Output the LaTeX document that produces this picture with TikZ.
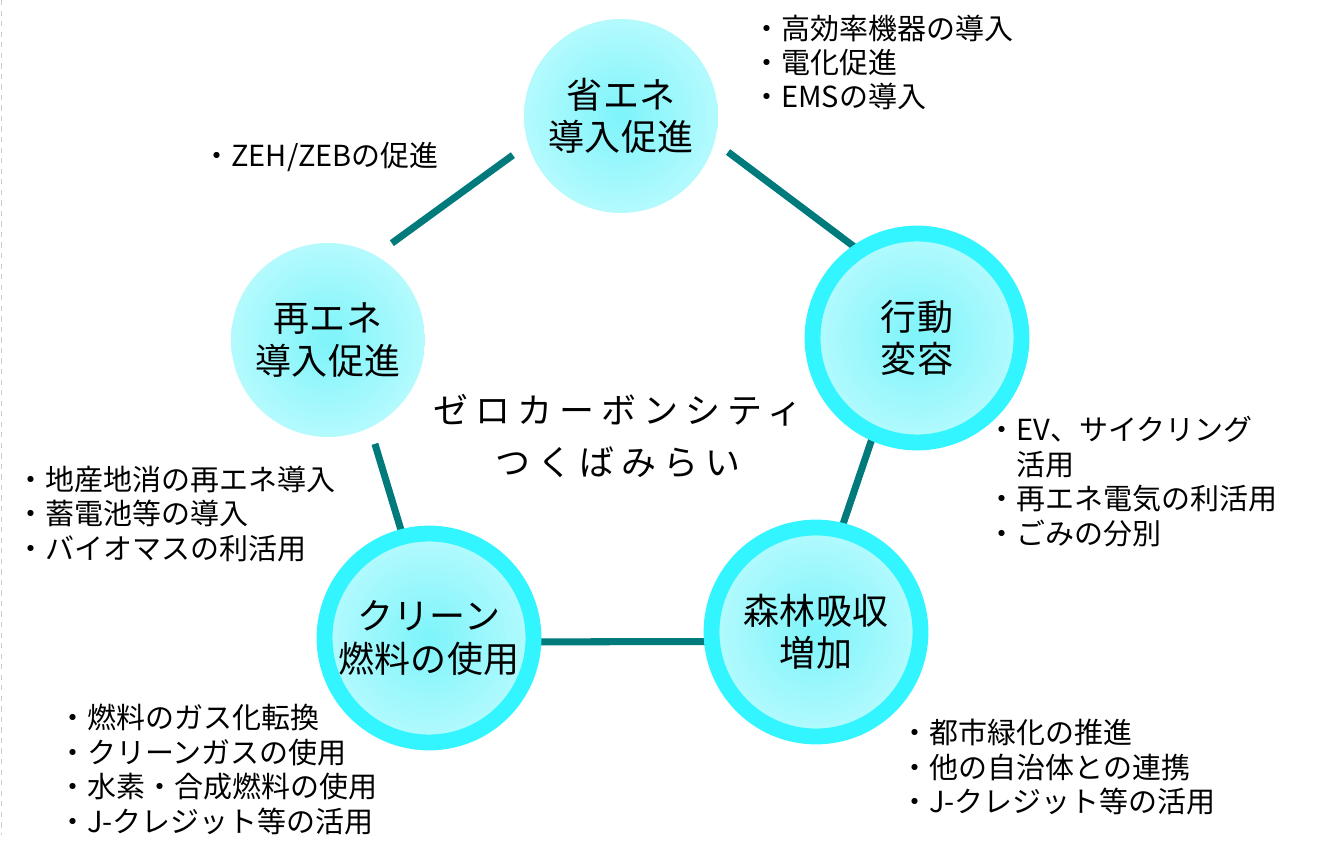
\documentclass[tikz,border=0pt]{standalone}
\usepackage{fontspec}
\setmainfont{Noto Sans CJK JP}
\newfontfamily\widefont[LetterSpace=20]{Noto Sans CJK JP}
\usetikzlibrary{backgrounds}

\definecolor{linkteal}{RGB}{0,122,122}
\definecolor{ringcyan}{RGB}{51,245,255}
\definecolor{bubcore}{RGB}{125,244,250}
\definecolor{bubedge}{RGB}{204,253,255}
\pgfdeclareradialshading{bubshade}{\pgfpoint{0bp}{0bp}}{color(0bp)=(bubcore); color(36bp)=(bubedge); color(50bp)=(bubedge)}

\begin{document}
\begin{tikzpicture}[x=0.02cm, y=-0.02cm,
    bubble/.style={circle, inner sep=0pt, minimum size=3.88cm, shading=bubshade, align=center, font=\fontsize{20.5}{24}\selectfont},
    ring bubble/.style={bubble, draw=ringcyan, line width=9pt, minimum size=4.18cm},
    link/.style={draw=linkteal, line width=4pt},
    item list/.style={anchor=west, align=left, inner sep=0pt, font=\fontsize{16.5}{19.6}\selectfont}]

                \useasboundingbox (0,0) rectangle (1317,847);
                \draw[dashed, black!20] (1,0) -- (1,835);

                \node[bubble] at (621, 116) (shou) {省エネ\\導入促進};
                \node[ring bubble] at (917, 338) (kou) {行動\\変容};
                \node[ring bubble] at (816, 632) (shin) {森林吸収\\増加};
                \node[ring bubble] at (429, 638) (clean) {クリーン\\燃料の使用};
                \node[bubble] at (328, 340) (sai) {再エネ\\導入促進};

                \node[align=center, font=\widefont\fontsize{19.9}{29.6}\selectfont] at (618, 436) (goal) {ゼロカーボンシティ\\つくばみらい};

                \node[item list] at (752, 62.5) (shoulist) {・高効率機器の導入\\・電化促進\\・EMSの導入};
                \node[item list] at (202, 157) (zeh) {・ZEH/ZEBの促進};
                \node[item list] at (987, 481.5) (koulist) {・EV、サイクリング\\\hspace{1em}活用\\・再エネ電気の利活用\\・ごみの分別};
                \node[item list] at (16, 514) (sailist) {・地産地消の再エネ導入\\・蓄電池等の導入\\・バイオマスの利活用};
                \node[item list] at (58, 769.5) (cleanlist) {・燃料のガス化転換\\・クリーンガスの使用\\・水素・合成燃料の使用\\・J-クレジット等の活用};
                \node[item list] at (900, 767) (shinlist) {・都市緑化の推進\\・他の自治体との連携\\・J-クレジット等の活用};

                \begin{scope}[on background layer]
                \draw[link] ([shift={(56.6:2.32cm)}]sai.center) -- ([shift={(199.9:2.30cm)}]shou.center);
                \draw[link] ([shift={(341.4:2.26cm)}]shou.center) -- ([shift={(124.4:2.2cm)}]kou.center);
                \draw[link] ([shift={(245.9:2.2cm)}]kou.center) -- ([shift={(76:2.2cm)}]shin.center);
                \draw[link] ([shift={(-2:2.2cm)}]clean.center) -- ([shift={(185:2.2cm)}]shin.center);
                \draw[link] ([shift={(294.3:2.28cm)}]sai.center) -- ([shift={(104.5:2.2cm)}]clean.center);
                \end{scope}
            \end{tikzpicture}
\end{document}
